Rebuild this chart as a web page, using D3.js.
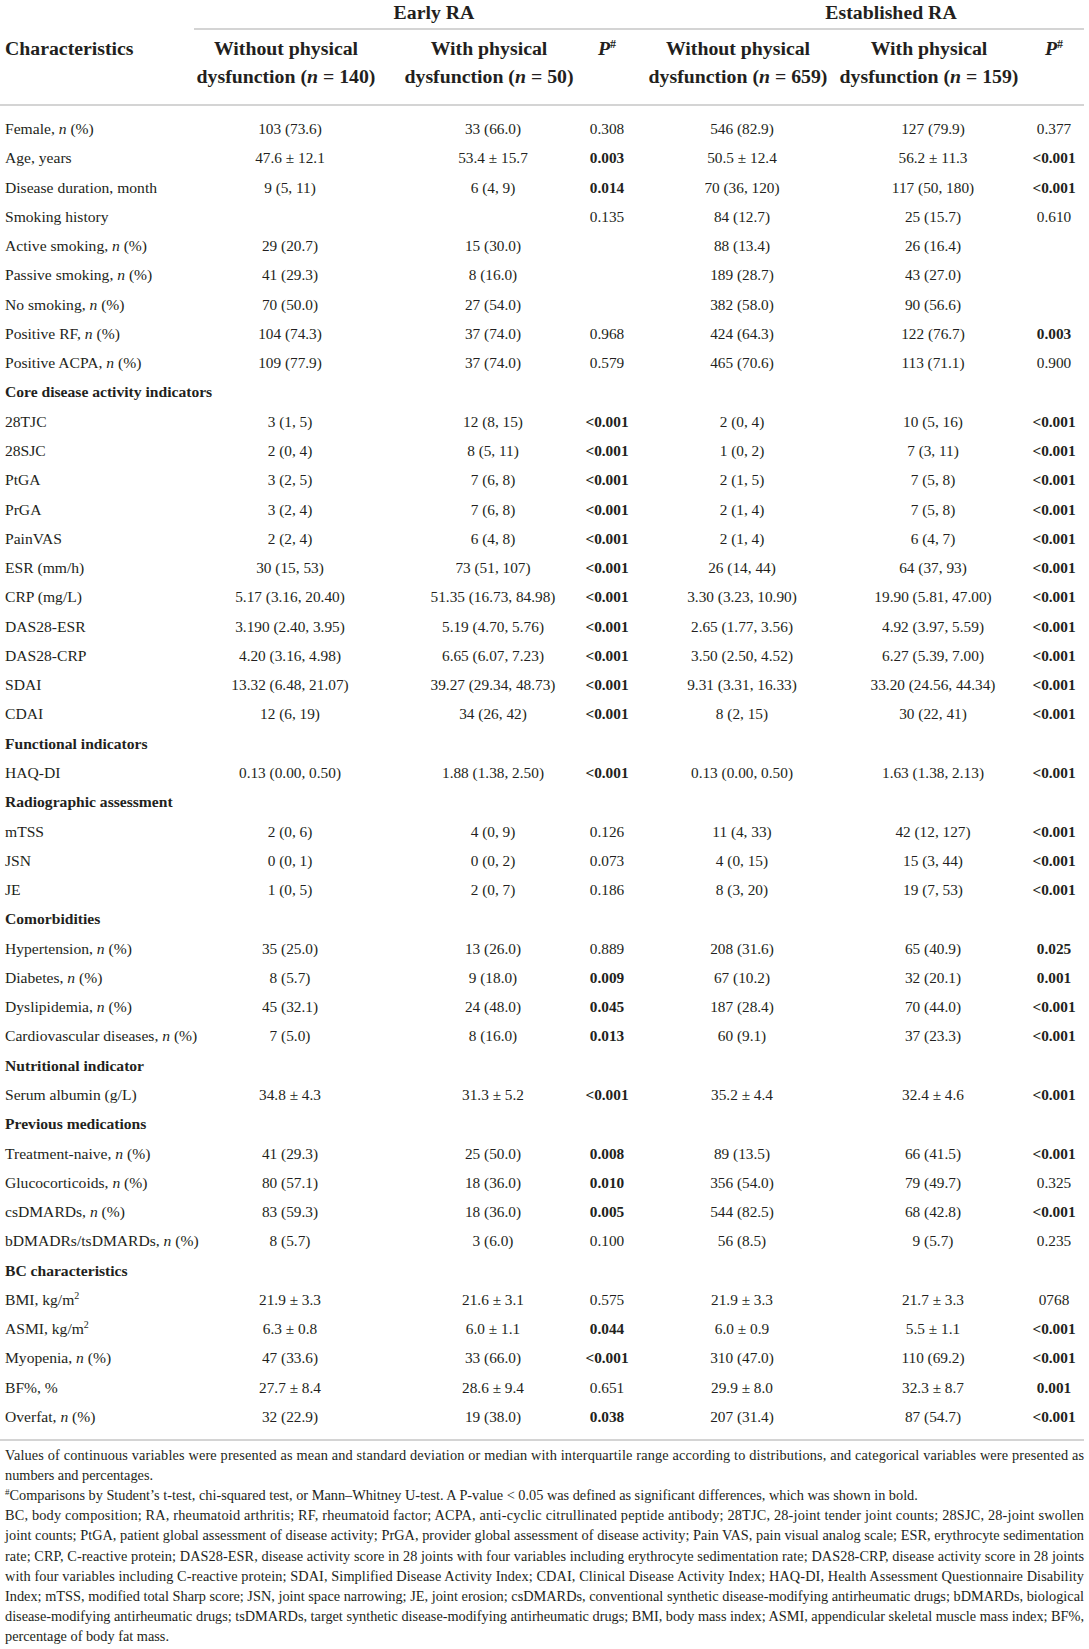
<!DOCTYPE html>
<html><head><meta charset="utf-8">
<script src="https://cdn.jsdelivr.net/npm/d3@7"></script>
<style>body{margin:0;background:#fff}</style>
</head><body><svg id="c" width="1089" height="1649"></svg>
<script>
// ---- data ----
const groups = ["Early RA", "Established RA"];
const colHeadTop = ["Without physical", "With physical", "", "Without physical", "With physical", ""];
const colHeadN = ["140", "50", "", "659", "159", ""];
const sections = ["Core disease activity indicators","Functional indicators","Radiographic assessment","Comorbidities","Nutritional indicator","Previous medications","BC characteristics"];
const rowLabels = [
 "Female, n (%)","Age, years","Disease duration, month","Smoking history","Active smoking, n (%)","Passive smoking, n (%)","No smoking, n (%)","Positive RF, n (%)","Positive ACPA, n (%)",
 "Core disease activity indicators","28TJC","28SJC","PtGA","PrGA","PainVAS","ESR (mm/h)","CRP (mg/L)","DAS28-ESR","DAS28-CRP","SDAI","CDAI",
 "Functional indicators","HAQ-DI",
 "Radiographic assessment","mTSS","JSN","JE",
 "Comorbidities","Hypertension, n (%)","Diabetes, n (%)","Dyslipidemia, n (%)","Cardiovascular diseases, n (%)",
 "Nutritional indicator","Serum albumin (g/L)",
 "Previous medications","Treatment-naive, n (%)","Glucocorticoids, n (%)","csDMARDs, n (%)","bDMADRs/tsDMARDs, n (%)",
 "BC characteristics","BMI, kg/m2","ASMI, kg/m2","Myopenia, n (%)","BF%, %","Overfat, n (%)"
];
const earlyWithout = ["103 (73.6)","47.6 ± 12.1","9 (5, 11)","","29 (20.7)","41 (29.3)","70 (50.0)","104 (74.3)","109 (77.9)",
 "","3 (1, 5)","2 (0, 4)","3 (2, 5)","3 (2, 4)","2 (2, 4)","30 (15, 53)","5.17 (3.16, 20.40)","3.190 (2.40, 3.95)","4.20 (3.16, 4.98)","13.32 (6.48, 21.07)","12 (6, 19)",
 "","0.13 (0.00, 0.50)",
 "","2 (0, 6)","0 (0, 1)","1 (0, 5)",
 "","35 (25.0)","8 (5.7)","45 (32.1)","7 (5.0)",
 "","34.8 ± 4.3",
 "","41 (29.3)","80 (57.1)","83 (59.3)","8 (5.7)",
 "","21.9 ± 3.3","6.3 ± 0.8","47 (33.6)","27.7 ± 8.4","32 (22.9)"];
const earlyWith = ["33 (66.0)","53.4 ± 15.7","6 (4, 9)","","15 (30.0)","8 (16.0)","27 (54.0)","37 (74.0)","37 (74.0)",
 "","12 (8, 15)","8 (5, 11)","7 (6, 8)","7 (6, 8)","6 (4, 8)","73 (51, 107)","51.35 (16.73, 84.98)","5.19 (4.70, 5.76)","6.65 (6.07, 7.23)","39.27 (29.34, 48.73)","34 (26, 42)",
 "","1.88 (1.38, 2.50)",
 "","4 (0, 9)","0 (0, 2)","2 (0, 7)",
 "","13 (26.0)","9 (18.0)","24 (48.0)","8 (16.0)",
 "","31.3 ± 5.2",
 "","25 (50.0)","18 (36.0)","18 (36.0)","3 (6.0)",
 "","21.6 ± 3.1","6.0 ± 1.1","33 (66.0)","28.6 ± 9.4","19 (38.0)"];
const earlyP = ["0.308","0.003","0.014","0.135","","","","0.968","0.579",
 "","<0.001","<0.001","<0.001","<0.001","<0.001","<0.001","<0.001","<0.001","<0.001","<0.001","<0.001",
 "","<0.001",
 "","0.126","0.073","0.186",
 "","0.889","0.009","0.045","0.013",
 "","<0.001",
 "","0.008","0.010","0.005","0.100",
 "","0.575","0.044","<0.001","0.651","0.038"];
const estWithout = ["546 (82.9)","50.5 ± 12.4","70 (36, 120)","84 (12.7)","88 (13.4)","189 (28.7)","382 (58.0)","424 (64.3)","465 (70.6)",
 "","2 (0, 4)","1 (0, 2)","2 (1, 5)","2 (1, 4)","2 (1, 4)","26 (14, 44)","3.30 (3.23, 10.90)","2.65 (1.77, 3.56)","3.50 (2.50, 4.52)","9.31 (3.31, 16.33)","8 (2, 15)",
 "","0.13 (0.00, 0.50)",
 "","11 (4, 33)","4 (0, 15)","8 (3, 20)",
 "","208 (31.6)","67 (10.2)","187 (28.4)","60 (9.1)",
 "","35.2 ± 4.4",
 "","89 (13.5)","356 (54.0)","544 (82.5)","56 (8.5)",
 "","21.9 ± 3.3","6.0 ± 0.9","310 (47.0)","29.9 ± 8.0","207 (31.4)"];
const estWith = ["127 (79.9)","56.2 ± 11.3","117 (50, 180)","25 (15.7)","26 (16.4)","43 (27.0)","90 (56.6)","122 (76.7)","113 (71.1)",
 "","10 (5, 16)","7 (3, 11)","7 (5, 8)","7 (5, 8)","6 (4, 7)","64 (37, 93)","19.90 (5.81, 47.00)","4.92 (3.97, 5.59)","6.27 (5.39, 7.00)","33.20 (24.56, 44.34)","30 (22, 41)",
 "","1.63 (1.38, 2.13)",
 "","42 (12, 127)","15 (3, 44)","19 (7, 53)",
 "","65 (40.9)","32 (20.1)","70 (44.0)","37 (23.3)",
 "","32.4 ± 4.6",
 "","66 (41.5)","79 (49.7)","68 (42.8)","9 (5.7)",
 "","21.7 ± 3.3","5.5 ± 1.1","110 (69.2)","32.3 ± 8.7","87 (54.7)"];
const estP = ["0.377","<0.001","<0.001","0.610","","","","0.003","0.900",
 "","<0.001","<0.001","<0.001","<0.001","<0.001","<0.001","<0.001","<0.001","<0.001","<0.001","<0.001",
 "","<0.001",
 "","<0.001","<0.001","<0.001",
 "","0.025","0.001","<0.001","<0.001",
 "","<0.001",
 "","<0.001","0.325","<0.001","0.235",
 "","0768","<0.001","<0.001","0.001","<0.001"];
const footnotes = [
 {t:"Values of continuous variables were presented as mean and standard deviation or median with interquartile range according to distributions, and categorical variables were presented as", j:true},
 {t:"numbers and percentages.", j:false},
 {t:"#Comparisons by Student’s t-test, chi-squared test, or Mann–Whitney U-test. A P-value < 0.05 was defined as significant differences, which was shown in bold.", j:false},
 {t:"BC, body composition; RA, rheumatoid arthritis; RF, rheumatoid factor; ACPA, anti-cyclic citrullinated peptide antibody; 28TJC, 28-joint tender joint counts; 28SJC, 28-joint swollen", j:true},
 {t:"joint counts; PtGA, patient global assessment of disease activity; PrGA, provider global assessment of disease activity; Pain VAS, pain visual analog scale; ESR, erythrocyte sedimentation", j:true},
 {t:"rate; CRP, C-reactive protein; DAS28-ESR, disease activity score in 28 joints with four variables including erythrocyte sedimentation rate; DAS28-CRP, disease activity score in 28 joints", j:true},
 {t:"with four variables including C-reactive protein; SDAI, Simplified Disease Activity Index; CDAI, Clinical Disease Activity Index; HAQ-DI, Health Assessment Questionnaire Disability", j:true},
 {t:"Index; mTSS, modified total Sharp score; JSN, joint space narrowing; JE, joint erosion; csDMARDs, conventional synthetic disease-modifying antirheumatic drugs; bDMARDs, biological", j:true},
 {t:"disease-modifying antirheumatic drugs; tsDMARDs, target synthetic disease-modifying antirheumatic drugs; BMI, body mass index; ASMI, appendicular skeletal muscle mass index; BF%,", j:true},
 {t:"percentage of body fat mass.", j:false}
];

// ---- drawing ----
const svg = d3.select("#c");
const FONT = "'Liberation Serif','Times New Roman',serif";
const INK = "#231f20";
const RULE = "#d4d4d4";
const W = 1089;
const colKeys = ["c1","c2","p1","c3","c4","p2"];
const colData = [earlyWithout, earlyWith, earlyP, estWithout, estWith, estP];
const x = d3.scaleOrdinal().domain(colKeys).range([290, 493, 607, 742, 933, 1054]);
const gx = d3.scaleOrdinal().domain(groups).range([434, 891]);
const y = d3.scaleLinear().domain([0, rowLabels.length - 1]).range([134, 1422]);
const fy = d3.scaleLinear().domain([0, footnotes.length - 1]).range([1460, 1641]);
const left = 5, right = 1084;

svg.append("rect").attr("width", W).attr("height", 1649).attr("fill", "#fff");

// rules
svg.append("line").attr("x1", 194).attr("x2", right).attr("y1", 29).attr("y2", 29).attr("stroke", RULE).attr("stroke-width", 2);
svg.append("line").attr("x1", 0).attr("x2", right).attr("y1", 105).attr("y2", 105).attr("stroke", RULE).attr("stroke-width", 2);
svg.append("line").attr("x1", 0).attr("x2", right).attr("y1", 1440).attr("y2", 1440).attr("stroke", RULE).attr("stroke-width", 2);

const HF = 19.8;
// group headers
svg.selectAll("text.grp").data(groups).join("text").attr("class", "grp")
  .attr("x", d => gx(d)).attr("y", 19).attr("text-anchor", "middle")
  .attr("font-family", FONT).attr("font-weight", "bold").attr("font-size", HF).attr("fill", INK)
  .text(d => d);

// Characteristics
svg.append("text").attr("x", left).attr("y", 55).attr("font-family", FONT).attr("font-weight", "bold")
  .attr("font-size", HF).attr("fill", INK).text("Characteristics");

colKeys.forEach((k, i) => {
  if (k[0] === "p") {
    const t = svg.append("text").attr("x", x(k)).attr("y", 55).attr("text-anchor", "middle")
      .attr("font-family", FONT).attr("font-weight", "bold").attr("font-size", HF).attr("fill", INK);
    t.append("tspan").attr("font-style", "italic").text("P");
    t.append("tspan").attr("font-size", 12).attr("dy", -7).text("#");
  } else {
    svg.append("text").attr("x", x(k) - 4).attr("y", 55).attr("text-anchor", "middle")
      .attr("font-family", FONT).attr("font-weight", "bold").attr("font-size", HF).attr("fill", INK)
      .text(colHeadTop[i]);
    const t = svg.append("text").attr("x", x(k) - 4).attr("y", 83).attr("text-anchor", "middle")
      .attr("font-family", FONT).attr("font-weight", "bold").attr("font-size", HF).attr("fill", INK);
    t.append("tspan").text("dysfunction (");
    t.append("tspan").attr("font-style", "italic").text("n");
    t.append("tspan").text(" = " + colHeadN[i] + ")");
  }
});

// row labels
function richLabel(t, s) {
  let m = s.match(/^(.*, )n( \(%\))$/);
  if (m) {
    t.append("tspan").text(m[1]);
    t.append("tspan").attr("font-style", "italic").text("n");
    t.append("tspan").text(m[2]);
    return;
  }
  m = s.match(/^(.*kg\/m)2$/);
  if (m) {
    t.append("tspan").text(m[1]);
    t.append("tspan").attr("font-size", 10).attr("dy", -6).text("2");
    return;
  }
  t.text(s);
}
const labelSel = svg.selectAll("text.lab").data(rowLabels).join("text").attr("class", "lab")
  .attr("x", left).attr("y", (d, i) => y(i))
  .attr("font-family", FONT).attr("font-size", 15.6).attr("fill", INK)
  .attr("font-weight", d => sections.includes(d) ? "bold" : "normal");
labelSel.each(function(d) { richLabel(d3.select(this), d); });

// cells
function isSig(v) {
  if (!v) return false;
  if (v[0] === "<") return true;
  if (!/^0\./.test(v)) return false;
  return parseFloat(v) < 0.05;
}
colKeys.forEach((k, ci) => {
  const vals = colData[ci];
  svg.selectAll("text.cell-" + k).data(vals).join("text").attr("class", "cell-" + k)
    .attr("x", x(k)).attr("y", (d, i) => y(i)).attr("text-anchor", "middle")
    .attr("font-family", FONT).attr("font-size", 15.3).attr("fill", INK)
    .attr("font-weight", d => (k[0] === "p" && isSig(d)) ? "bold" : "normal")
    .text(d => d);
});

// footnotes
footnotes.forEach((f, i) => {
  const t = svg.append("text").attr("x", left).attr("y", fy(i))
    .attr("font-family", FONT).attr("font-size", 14.3).attr("fill", INK);
  if (f.t[0] === "#") {
    t.append("tspan").attr("font-size", 9).attr("dy", -5).text("#");
    t.append("tspan").attr("dy", 5).text(f.t.slice(1));
  } else {
    t.text(f.t);
  }
  if (f.j) t.attr("textLength", right - left).attr("lengthAdjust", "spacing");
});
</script></body></html>
